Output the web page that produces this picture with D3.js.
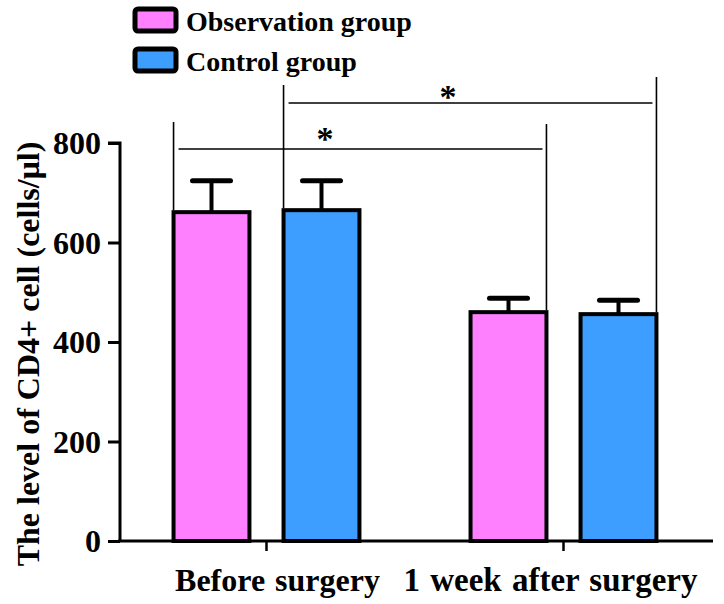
<!DOCTYPE html>
<html><head><meta charset="utf-8">
<script src="https://cdn.jsdelivr.net/npm/d3@7"></script>
<style>body{margin:0;background:#fff}</style>
</head><body>
<svg id="chart" width="724" height="604"></svg>
<script>
const categories = ["Before surgery", "1 week after surgery"];
const groups = ["Observation group", "Control group"];
const colors = ["#FF80FF", "#3D9EFF"];
const observationValues = [661, 460];
const observationErrors = [63, 28];
const controlValues = [665, 456];
const controlErrors = [59, 28];
const yTicks = [0, 200, 400, 600, 800];
const sigLabel = "*";

const svg = d3.select("#chart");
const font = "Liberation Serif";

const y = d3.scaleLinear().domain([0, 800]).range([541, 143]);
const x0 = d3.scaleBand().domain(categories).range([118, 712]).padding(0);
const x1 = d3.scaleBand().domain(groups).range([0, x0.bandwidth()]).paddingInner(0.31).paddingOuter(0.505);

const data = [];
categories.forEach((c, i) => {
  data.push({cat: c, grp: groups[0], v: observationValues[i], e: observationErrors[i], col: colors[0]});
  data.push({cat: c, grp: groups[1], v: controlValues[i], e: controlErrors[i], col: colors[1]});
});

const eb = svg.append("g");
data.forEach(d => {
  const cx = x0(d.cat) + x1(d.grp) + x1.bandwidth() / 2;
  eb.append("line").attr("x1", cx).attr("x2", cx).attr("y1", y(d.v)).attr("y2", y(d.v + d.e))
    .attr("stroke", "#000").attr("stroke-width", 4);
  eb.append("line").attr("x1", cx - 19).attr("x2", cx + 19).attr("y1", y(d.v + d.e)).attr("y2", y(d.v + d.e))
    .attr("stroke", "#000").attr("stroke-width", 5).attr("stroke-linecap", "round");
});

svg.append("g").selectAll("rect").data(data).join("rect")
  .attr("x", d => x0(d.cat) + x1(d.grp))
  .attr("y", d => y(d.v))
  .attr("width", x1.bandwidth())
  .attr("height", d => y(0) - y(d.v))
  .attr("fill", d => d.col)
  .attr("stroke", "#000").attr("stroke-width", 4);

const yAxis = svg.append("g").attr("transform", "translate(120,0)")
  .call(d3.axisLeft(y).tickValues(yTicks).tickSize(12).tickPadding(7));
yAxis.attr("font-family", font);
yAxis.select(".domain").attr("stroke-width", 3).attr("d", `M-12,${y(800)}H0V${y(0)}`);
yAxis.selectAll(".tick line").attr("stroke-width", 3);
yAxis.selectAll(".tick text").attr("font-family", font).attr("font-weight", "bold")
  .attr("font-size", 32).attr("fill", "#000").attr("dy", "0.34em");

const xAxis = svg.append("g").attr("transform", `translate(0,${y(0)})`)
  .call(d3.axisBottom(x0).tickSize(10).tickSizeOuter(0).tickFormat(""));
xAxis.select(".domain").attr("stroke-width", 3).attr("d", `M118,0H713`);
xAxis.selectAll(".tick line").attr("stroke-width", 2.5);

const labelOffsets = [11, -13];
const labelSizes = [32, 33];
categories.forEach((c, i) => {
  svg.append("text").attr("x", x0(c) + x0.bandwidth() / 2 + labelOffsets[i]).attr("y", 591)
    .attr("text-anchor", "middle").attr("font-family", font).attr("font-weight", "bold")
    .attr("font-size", labelSizes[i]).attr("word-spacing", 2).text(c);
});

svg.append("text").attr("transform", "translate(39,354) rotate(-90)")
  .attr("text-anchor", "middle").attr("font-family", font).attr("font-weight", "bold")
  .attr("font-size", 32).text("The level of CD4+ cell (cells/μl)");

groups.forEach((g, i) => {
  const yy = 9 + i * 40;
  svg.append("rect").attr("x", 135).attr("y", yy).attr("width", 41).attr("height", 22)
    .attr("rx", 3).attr("fill", colors[i]).attr("stroke", "#000").attr("stroke-width", 5);
  svg.append("text").attr("x", 186).attr("y", yy + 22).attr("font-family", font)
    .attr("font-weight", "bold").attr("font-size", 28).text(g);
});

const cxOf = (cat, grp) => x0(cat) + x1(grp);
const brackets = [
  {x1: cxOf(categories[0], groups[0]), x2: cxOf(categories[1], groups[0]) + x1.bandwidth(),
   top1: 122, top2: 124, hy: 149, b1: observationValues[0], b2: observationValues[1], sx: 325, sy: 150},
  {x1: cxOf(categories[0], groups[1]), x2: cxOf(categories[1], groups[1]) + x1.bandwidth(),
   top1: 85, top2: 77, hy: 103, b1: controlValues[0], b2: controlValues[1], sx: 448, sy: 108}
];
const bg = svg.append("g").attr("stroke", "#000").attr("stroke-width", 1.6);
brackets.forEach(b => {
  bg.append("line").attr("x1", b.x1).attr("x2", b.x1).attr("y1", b.top1).attr("y2", y(b.b1) - 2);
  bg.append("line").attr("x1", b.x2).attr("x2", b.x2).attr("y1", b.top2).attr("y2", y(b.b2) - 2);
  bg.append("line").attr("x1", b.x1 + 5).attr("x2", b.x2 - 4).attr("y1", b.hy).attr("y2", b.hy);
  svg.append("text").attr("x", b.sx).attr("y", b.sy).attr("text-anchor", "middle")
    .attr("font-family", font).attr("font-weight", "bold").attr("font-size", 34).text(sigLabel);
});
</script>
</body></html>
